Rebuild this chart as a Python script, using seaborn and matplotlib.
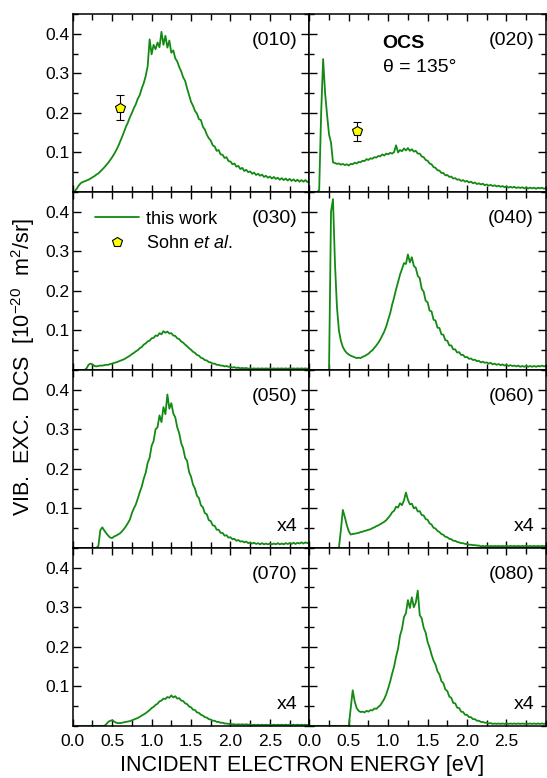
import numpy as np
import matplotlib
matplotlib.use("Agg")
import matplotlib.pyplot as plt
from matplotlib.lines import Line2D
from matplotlib.ticker import MultipleLocator, FixedLocator
import seaborn as sns

sns.set_theme(style="ticks")
plt.rcParams['font.family'] = ['Liberation Sans', 'DejaVu Sans']
plt.rcParams['mathtext.fontset'] = 'custom'
plt.rcParams['mathtext.rm'] = 'Liberation Sans'
plt.rcParams['mathtext.it'] = 'Liberation Sans:italic'
plt.rcParams['text.color'] = 'black'
plt.rcParams['xtick.color'] = 'black'
plt.rcParams['ytick.color'] = 'black'
plt.rcParams['axes.labelcolor'] = 'black'

energy = np.round(np.arange(0, 3.0001, 0.025), 3)

dcs_010 = [0.000, 0.002, 0.008, 0.016, 0.022, 0.025, 0.027, 0.029, 0.031, 0.034,
           0.037, 0.040, 0.044, 0.047, 0.052, 0.057, 0.062, 0.068, 0.074, 0.081,
           0.088, 0.096, 0.105, 0.115, 0.127, 0.139, 0.152, 0.165, 0.176, 0.189,
           0.200, 0.212, 0.222, 0.236, 0.245, 0.262, 0.275, 0.293, 0.318, 0.386,
           0.348, 0.372, 0.361, 0.378, 0.366, 0.405, 0.372, 0.395, 0.365, 0.383,
           0.352, 0.358, 0.338, 0.330, 0.316, 0.305, 0.290, 0.281, 0.262, 0.245,
           0.228, 0.218, 0.205, 0.198, 0.184, 0.182, 0.165, 0.158, 0.145, 0.136,
           0.130, 0.118, 0.115, 0.104, 0.106, 0.095, 0.094, 0.086, 0.088, 0.078,
           0.077, 0.070, 0.072, 0.064, 0.066, 0.058, 0.061, 0.053, 0.056, 0.050,
           0.052, 0.046, 0.049, 0.043, 0.046, 0.041, 0.044, 0.038, 0.041, 0.036,
           0.039, 0.034, 0.038, 0.033, 0.036, 0.031, 0.035, 0.030, 0.034, 0.029,
           0.033, 0.028, 0.032, 0.027, 0.031, 0.026, 0.030, 0.026, 0.030, 0.025,
           0.029]

dcs_020 = [0.000, 0.000, 0.000, 0.000, 0.000, 0.005, 0.200, 0.336, 0.250, 0.195,
           0.145, 0.125, 0.075, 0.073, 0.071, 0.072, 0.069, 0.071, 0.068, 0.070,
           0.067, 0.071, 0.070, 0.074, 0.072, 0.076, 0.075, 0.079, 0.078, 0.083,
           0.081, 0.085, 0.084, 0.088, 0.087, 0.091, 0.090, 0.095, 0.092, 0.097,
           0.095, 0.099, 0.097, 0.101, 0.118, 0.100, 0.106, 0.103, 0.110, 0.105,
           0.111, 0.104, 0.108, 0.102, 0.104, 0.097, 0.097, 0.090, 0.088, 0.081,
           0.079, 0.072, 0.070, 0.063, 0.061, 0.055, 0.054, 0.048, 0.048, 0.042,
           0.043, 0.038, 0.039, 0.034, 0.035, 0.031, 0.032, 0.028, 0.030, 0.026,
           0.028, 0.024, 0.026, 0.022, 0.024, 0.020, 0.022, 0.019, 0.021, 0.017,
           0.019, 0.016, 0.018, 0.015, 0.017, 0.014, 0.016, 0.013, 0.015, 0.012,
           0.014, 0.011, 0.013, 0.011, 0.013, 0.010, 0.012, 0.010, 0.012, 0.009,
           0.011, 0.009, 0.011, 0.009, 0.011, 0.008, 0.011, 0.009, 0.011, 0.008,
           0.010]

dcs_030 = [0.000, 0.000, 0.000, 0.000, 0.000, 0.000, 0.000, 0.004, 0.013, 0.016,
           0.014, 0.010, 0.009, 0.010, 0.011, 0.011, 0.012, 0.013, 0.013, 0.015,
           0.016, 0.018, 0.019, 0.021, 0.023, 0.025, 0.027, 0.030, 0.033, 0.036,
           0.040, 0.043, 0.047, 0.050, 0.055, 0.058, 0.064, 0.067, 0.072, 0.074,
           0.080, 0.081, 0.087, 0.086, 0.093, 0.090, 0.098, 0.094, 0.097, 0.092,
           0.093, 0.087, 0.086, 0.080, 0.078, 0.072, 0.069, 0.064, 0.060, 0.055,
           0.051, 0.046, 0.043, 0.038, 0.036, 0.031, 0.029, 0.025, 0.024, 0.020,
           0.019, 0.016, 0.016, 0.013, 0.013, 0.011, 0.011, 0.009, 0.010, 0.008,
           0.008, 0.006, 0.007, 0.005, 0.006, 0.004, 0.005, 0.004, 0.005, 0.003,
           0.004, 0.003, 0.004, 0.003, 0.004, 0.003, 0.004, 0.003, 0.004, 0.003,
           0.004, 0.003, 0.004, 0.003, 0.004, 0.003, 0.004, 0.003, 0.004, 0.003,
           0.004, 0.003, 0.004, 0.003, 0.004, 0.003, 0.004, 0.003, 0.004, 0.003,
           0.004]

dcs_040 = [0.000, 0.000, 0.000, 0.000, 0.000, 0.000, 0.000, 0.000, 0.000, 0.000,
           0.000, 0.400, 0.432, 0.270, 0.160, 0.100, 0.074, 0.058, 0.049, 0.043,
           0.039, 0.036, 0.034, 0.032, 0.030, 0.031, 0.030, 0.033, 0.035, 0.038,
           0.041, 0.046, 0.050, 0.056, 0.062, 0.069, 0.077, 0.087, 0.097, 0.110,
           0.127, 0.143, 0.165, 0.183, 0.204, 0.222, 0.241, 0.255, 0.270, 0.268,
           0.292, 0.272, 0.285, 0.263, 0.258, 0.238, 0.232, 0.205, 0.198, 0.175,
           0.171, 0.150, 0.148, 0.127, 0.125, 0.107, 0.106, 0.090, 0.089, 0.075,
           0.074, 0.062, 0.062, 0.052, 0.052, 0.044, 0.045, 0.038, 0.038, 0.032,
           0.033, 0.028, 0.029, 0.025, 0.026, 0.022, 0.023, 0.019, 0.021, 0.018,
           0.019, 0.016, 0.018, 0.014, 0.016, 0.013, 0.015, 0.012, 0.014, 0.011,
           0.013, 0.010, 0.012, 0.010, 0.011, 0.009, 0.011, 0.008, 0.010, 0.008,
           0.010, 0.008, 0.010, 0.008, 0.010, 0.008, 0.010, 0.009, 0.011, 0.009,
           0.010]

# x4 scaled
dcs_050 = [0.000, 0.000, 0.000, 0.000, 0.000, 0.000, 0.000, 0.000, 0.000, 0.000,
           0.000, 0.000, 0.000, 0.005, 0.045, 0.052, 0.044, 0.037, 0.031, 0.026,
           0.025, 0.029, 0.031, 0.034, 0.037, 0.042, 0.048, 0.055, 0.063, 0.072,
           0.088, 0.100, 0.110, 0.125, 0.141, 0.155, 0.175, 0.190, 0.215, 0.228,
           0.258, 0.270, 0.300, 0.305, 0.335, 0.318, 0.356, 0.338, 0.388, 0.352,
           0.366, 0.340, 0.330, 0.305, 0.290, 0.265, 0.252, 0.228, 0.220, 0.192,
           0.180, 0.160, 0.150, 0.132, 0.126, 0.108, 0.103, 0.088, 0.085, 0.070,
           0.068, 0.057, 0.056, 0.046, 0.046, 0.038, 0.038, 0.031, 0.032, 0.026,
           0.027, 0.022, 0.023, 0.018, 0.020, 0.016, 0.017, 0.014, 0.016, 0.012,
           0.014, 0.011, 0.013, 0.010, 0.012, 0.009, 0.012, 0.009, 0.011, 0.009,
           0.011, 0.009, 0.011, 0.009, 0.012, 0.009, 0.011, 0.009, 0.012, 0.010,
           0.012, 0.010, 0.013, 0.010, 0.013, 0.011, 0.014, 0.011, 0.014, 0.012,
           0.015]

dcs_060 = [0.000, 0.000, 0.000, 0.000, 0.000, 0.000, 0.000, 0.000, 0.000, 0.000,
           0.000, 0.000, 0.000, 0.000, 0.000, 0.000, 0.045, 0.096, 0.078, 0.058,
           0.042, 0.034, 0.035, 0.036, 0.037, 0.038, 0.040, 0.041, 0.043, 0.044,
           0.046, 0.047, 0.050, 0.052, 0.055, 0.057, 0.060, 0.063, 0.066, 0.070,
           0.076, 0.082, 0.090, 0.094, 0.104, 0.102, 0.113, 0.108, 0.120, 0.140,
           0.122, 0.110, 0.112, 0.100, 0.103, 0.092, 0.093, 0.083, 0.082, 0.073,
           0.071, 0.062, 0.059, 0.051, 0.049, 0.043, 0.040, 0.035, 0.033, 0.028,
           0.027, 0.023, 0.022, 0.018, 0.018, 0.015, 0.014, 0.012, 0.012, 0.010,
           0.010, 0.008, 0.008, 0.007, 0.007, 0.006, 0.006, 0.004, 0.005, 0.004,
           0.005, 0.004, 0.005, 0.004, 0.005, 0.004, 0.005, 0.004, 0.005, 0.004,
           0.005, 0.004, 0.005, 0.004, 0.005, 0.004, 0.005, 0.004, 0.005, 0.004,
           0.005, 0.004, 0.005, 0.004, 0.005, 0.004, 0.005, 0.004, 0.005, 0.004,
           0.005]

dcs_070 = [0.000, 0.000, 0.000, 0.000, 0.000, 0.000, 0.000, 0.000, 0.000, 0.000,
           0.000, 0.000, 0.000, 0.000, 0.000, 0.000, 0.000, 0.004, 0.010, 0.013,
           0.014, 0.011, 0.008, 0.007, 0.007, 0.008, 0.009, 0.010, 0.011, 0.012,
           0.014, 0.016, 0.018, 0.020, 0.023, 0.026, 0.029, 0.032, 0.036, 0.040,
           0.045, 0.048, 0.053, 0.056, 0.062, 0.064, 0.069, 0.068, 0.073, 0.071,
           0.077, 0.072, 0.075, 0.069, 0.070, 0.064, 0.063, 0.057, 0.055, 0.049,
           0.047, 0.041, 0.040, 0.034, 0.033, 0.028, 0.026, 0.022, 0.021, 0.017,
           0.016, 0.013, 0.013, 0.010, 0.010, 0.008, 0.008, 0.006, 0.006, 0.005,
           0.005, 0.004, 0.004, 0.003, 0.004, 0.003, 0.004, 0.003, 0.004, 0.003,
           0.003, 0.002, 0.003, 0.002, 0.003, 0.002, 0.003, 0.002, 0.003, 0.002,
           0.003, 0.002, 0.003, 0.002, 0.003, 0.002, 0.003, 0.002, 0.003, 0.002,
           0.003, 0.002, 0.003, 0.002, 0.003, 0.002, 0.003, 0.002, 0.003, 0.002,
           0.003]

dcs_080 = [0.000, 0.000, 0.000, 0.000, 0.000, 0.000, 0.000, 0.000, 0.000, 0.000,
           0.000, 0.000, 0.000, 0.000, 0.000, 0.000, 0.000, 0.000, 0.000, 0.000,
           0.000, 0.045, 0.090, 0.062, 0.045, 0.038, 0.035, 0.036, 0.034, 0.038,
           0.036, 0.040, 0.039, 0.044, 0.043, 0.048, 0.052, 0.060, 0.068, 0.080,
           0.095, 0.112, 0.132, 0.150, 0.175, 0.195, 0.228, 0.245, 0.275, 0.285,
           0.318, 0.298, 0.325, 0.300, 0.312, 0.342, 0.280, 0.272, 0.248, 0.236,
           0.212, 0.198, 0.180, 0.165, 0.155, 0.138, 0.130, 0.113, 0.108, 0.092,
           0.088, 0.074, 0.071, 0.058, 0.057, 0.046, 0.045, 0.036, 0.035, 0.028,
           0.028, 0.022, 0.022, 0.017, 0.017, 0.013, 0.013, 0.010, 0.010, 0.008,
           0.008, 0.006, 0.007, 0.005, 0.006, 0.005, 0.006, 0.005, 0.006, 0.005,
           0.006, 0.005, 0.006, 0.005, 0.006, 0.005, 0.006, 0.005, 0.006, 0.005,
           0.006, 0.005, 0.006, 0.005, 0.006, 0.005, 0.006, 0.005, 0.006, 0.005,
           0.006]

panel_names = ['(010)', '(020)', '(030)', '(040)', '(050)', '(060)', '(070)', '(080)']
scaled = [False, False, False, False, True, True, True, True]
curves = [dcs_010, dcs_020, dcs_030, dcs_040, dcs_050, dcs_060, dcs_070, dcs_080]

# Sohn et al. points
sohn_energy = [0.6]
sohn_010 = [0.213]
sohn_010_err = [0.032]
sohn_020 = [0.153]
sohn_020_err = [0.023]

line_color = '#138a13'

fig, axes = plt.subplots(4, 2, figsize=(5.47, 7.78), dpi=100, sharex=True, sharey=True)
fig.subplots_adjust(left=0.133, right=0.998, top=0.982, bottom=0.067, hspace=0, wspace=0)

for ax, name, vals, x4 in zip(axes.flat, panel_names, curves, scaled):
    sns.lineplot(x=energy, y=vals, ax=ax, color=line_color, lw=1.3)
    ax.text(0.95, 0.85, name, transform=ax.transAxes, ha='right', va='center', fontsize=14)
    if x4:
        ax.text(0.95, 0.12, 'x4', transform=ax.transAxes, ha='right', va='center', fontsize=14)
    ax.set_xlim(0, 3.0)
    ax.set_ylim(0, 0.45)
    ax.xaxis.set_major_locator(FixedLocator([0.0, 0.5, 1.0, 1.5, 2.0, 2.5]))
    ax.xaxis.set_minor_locator(MultipleLocator(0.25))
    ax.yaxis.set_major_locator(FixedLocator([0.1, 0.2, 0.3, 0.4]))
    ax.yaxis.set_minor_locator(MultipleLocator(0.05))
    ax.tick_params(axis='y', which='both', direction='in', left=True, right=True,
                   width=1, color='black', labelsize=12.5, pad=2)
    ax.tick_params(axis='y', which='major', length=6)
    ax.tick_params(axis='y', which='minor', length=3.5)
    ax.tick_params(axis='x', which='both', direction='in', bottom=True, top=True,
                   width=1, color='black', labelsize=12.5, pad=6)
    ax.tick_params(axis='x', which='major', length=5)
    ax.tick_params(axis='x', which='minor', length=4)
    ax.set_xlabel('')
    ax.set_ylabel('')
    for sp in ax.spines.values():
        sp.set_color('black')
        sp.set_linewidth(1.1)

for ax in axes[-1]:
    ax.set_xticklabels(['0.0', '0.5', '1.0', '1.5', '2.0', '2.5'])

err_style = dict(fmt='p', mfc='yellow', mec='black', mew=0.8, ms=7,
                 ecolor='black', elinewidth=0.8, capsize=3, capthick=0.8, zorder=5)
axes[0, 0].errorbar(sohn_energy, sohn_010, yerr=sohn_010_err, **err_style)
axes[0, 1].errorbar(sohn_energy, sohn_020, yerr=sohn_020_err, **err_style)

axes[0, 1].text(0.31, 0.835, 'OCS', transform=axes[0, 1].transAxes, ha='left', va='center',
                fontsize=14, fontweight='bold')
axes[0, 1].text(0.31, 0.70, '\u03b8 = 135\u00b0', transform=axes[0, 1].transAxes,
                ha='left', va='center', fontsize=14)

handles = [Line2D([], [], color=line_color, lw=1.3),
           Line2D([], [], marker='p', ls='none', mfc='yellow', mec='black', mew=0.8, ms=7)]
axes[1, 0].legend(handles, ['this work', 'Sohn $\\it{et\\ al.}$'], loc='upper left',
                  bbox_to_anchor=(0.042, 0.966), frameon=False, fontsize=13, handlelength=2.4,
                  handletextpad=0.4, borderaxespad=0.3, labelspacing=0.4)

fig.text(0.553, 0.016, 'INCIDENT ELECTRON ENERGY [eV]', ha='center', va='center', fontsize=15.5)
fig.text(0.042, 0.528, 'VIB.  EXC.  DCS  [10$^{-20}$  m$^2$/sr]', ha='center', va='center',
         rotation=90, fontsize=15.5)

fig.savefig('out.png', dpi=100)
